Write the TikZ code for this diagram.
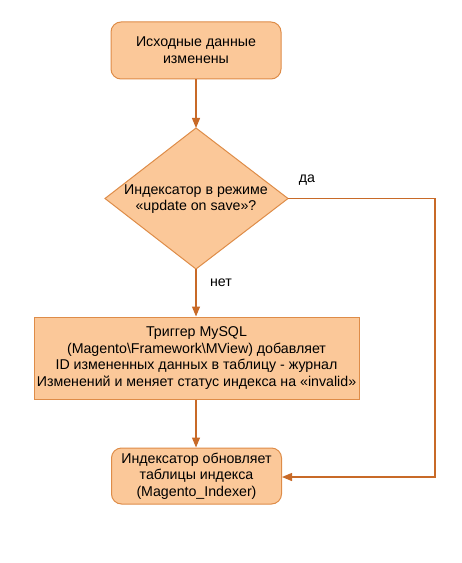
\documentclass[tikz,border=0pt]{standalone}
\usepackage{fontspec}
\setmainfont{Liberation Sans}
\usetikzlibrary{arrows.meta}
\definecolor{boxfill}{RGB}{251,200,153}
\definecolor{boxline}{RGB}{222,140,72}
\definecolor{arrline}{RGB}{200,106,40}
\newdimen\px \px=0.75pt
\begin{document}
\begin{tikzpicture}[x=0.75pt,y=-0.75pt,
  txt/.style={font=\fontsize{10.65}{12.5}\selectfont, align=center, text=black},
  rbox/.style={txt, draw=boxline, fill=boxfill, line width=0.75pt, rounded corners=7.5pt, inner sep=0pt},
  sbox/.style={txt, draw=boxline, fill=boxfill, line width=0.75pt, inner sep=0pt},
  conn/.style={draw=arrline, line width=0.9pt, -{Triangle[length=7.5pt,width=6pt]}},
  lbl/.style={font=\fontsize{10.65}{12.5}\selectfont, text=black, inner sep=0pt}]
\useasboundingbox (0,0) rectangle (461,563);
\node[rbox, minimum width=170*\px, minimum height=57*\px] (b1) at (196,50.5) {Исходные данные\\изменены};
% diamond
\coordinate (dtop) at (196,128);
\coordinate (dleft) at (105,198.5);
\coordinate (dright) at (288,198.5);
\coordinate (dbottom) at (196,269);
\draw[draw=boxline, fill=boxfill, line width=0.75pt] (dtop) -- (dright) -- (dbottom) -- (dleft) -- cycle;
\node[txt] (dtext) at (196,199) {Индексатор в режиме\\«update on save»?};
\node[sbox, minimum width=325*\px, minimum height=82*\px] (b3) at (196.5,358) {Триггер MySQL\\(Magento\textbackslash Framework\textbackslash MView) добавляет\\ID измененных данных в таблицу - журнал\\Изменений и меняет статус индекса на «invalid»};
\node[rbox, minimum width=170*\px, minimum height=56*\px] (b4) at (196.5,476) {Индексатор обновляет\\таблицы индекса\\(Magento\_Indexer)};
\coordinate (c1) at (435,198.5);
\coordinate (c2) at (435,477);
\draw[conn] (b1.south) -- (dtop);
\draw[conn] (dbottom) -- (b3.north -| dbottom);
\draw[conn] (b3.south -| dbottom) -- (b4.north -| dbottom);
\draw[conn] (dright) -- (c1) -- (c2) -- (b4.east |- c2);
\node[lbl] (yes) at (307,180) {да};
\node[lbl] (no) at (221,283) {нет};
\end{tikzpicture}
\end{document}
